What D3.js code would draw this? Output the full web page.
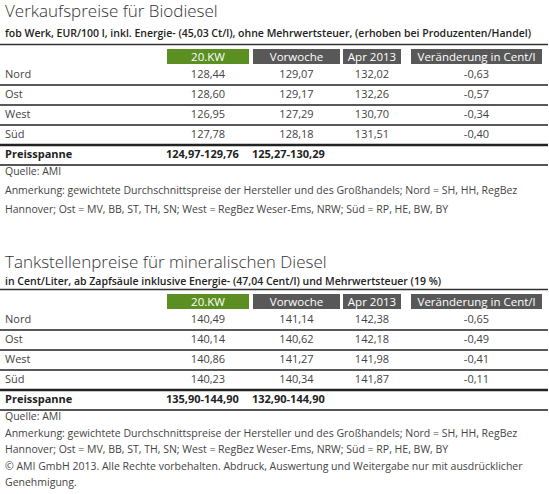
<!DOCTYPE html>
<html>
<head>
<meta charset="utf-8">
<script src="https://cdn.jsdelivr.net/npm/d3@7"></script>
<style>
  body { margin: 0; background: #fff; }
  svg { display: block; font-family: "Open Sans", "Noto Sans", sans-serif; }
</style>
</head>
<body>
<script>
// column heads and row labels
var columns = ["20.KW", "Vorwoche", "Apr 2013", "Veränderung in Cent/l"];
var regions = ["Nord", "Ost", "West", "Süd"];
var rangeLabel = "Preisspanne";

// Biodiesel, EUR/100 l
var bioKw = [128.44, 128.60, 126.95, 127.78];
var bioPrev = [129.07, 129.17, 127.29, 128.18];
var bioApr = [132.02, 132.26, 130.70, 131.51];
var bioChange = [-0.63, -0.57, -0.34, -0.40];
var bioRange = ["124,97-129,76", "125,27-130,29"];

// Diesel an der Tankstelle, Cent/Liter
var dieselKw = [140.49, 140.14, 140.86, 140.23];
var dieselPrev = [141.14, 140.62, 141.27, 140.34];
var dieselApr = [142.38, 142.18, 141.98, 141.87];
var dieselChange = [-0.65, -0.49, -0.41, -0.11];
var dieselRange = ["135,90-144,90", "132,90-144,90"];

var noteRegions = [
  "Anmerkung: gewichtete Durchschnittspreise der Hersteller und des Großhandels; Nord = SH, HH, RegBez",
  "Hannover; Ost = MV, BB, ST, TH, SN; West = RegBez Weser-Ems, NRW; Süd = RP, HE, BW, BY"
];
var noteCopy = [
  "© AMI GmbH 2013. Alle Rechte vorbehalten. Abdruck, Auswertung und Weitergabe nur mit ausdrücklicher",
  "Genehmigung."
];

var width = 549, height = 494;
var fmt = d3.formatLocale({decimal: ",", thousands: ".", grouping: [3], currency: ["", ""], minus: "-"}).format(".2f");

var svg = d3.select("body").append("svg")
    .attr("width", width)
    .attr("height", height);

// header boxes: left and right edges of each column
var colLeft = d3.scaleOrdinal().domain(columns).range([167, 253, 343, 411]);
var colRight = d3.scaleOrdinal().domain(columns).range([249, 340, 401, 542]);
var colFill = d3.scaleOrdinal().domain(columns).range(["#5b8f22", "#585858", "#585858", "#585858"]);

var tables = [
  {
    top: 0, titleY: 17, subY: 37,
    title: "Verkaufspreise für Biodiesel",
    subtitle: "fob Werk, EUR/100 l, inkl. Energie- (45,03 Ct/l), ohne Mehrwertsteuer, (erhoben bei Produzenten/Handel)",
    values: [bioKw, bioPrev, bioApr, bioChange],
    range: bioRange,
    notes: ["Quelle: AMI"].concat(noteRegions),
    notePitch: 19
  },
  {
    top: 245, titleY: 23, subY: 40,
    title: "Tankstellenpreise für mineralischen Diesel",
    subtitle: "in Cent/Liter, ab Zapfsäule inklusive Energie- (47,04 Cent/l) und Mehrwertsteuer (19 %)",
    values: [dieselKw, dieselPrev, dieselApr, dieselChange],
    range: dieselRange,
    notes: ["Quelle: AMI"].concat(noteRegions, noteCopy),
    notePitch: 16.5
  }
];

tables.forEach(function(t) {
  var g = svg.append("g").attr("transform", "translate(0," + t.top + ")");

  g.append("text")
      .attr("x", 5).attr("y", t.titleY)
      .style("font-size", "17px")
      .style("font-weight", 300)
      .style("fill", "#333")
      .text(t.title);

  g.append("text")
      .attr("x", 5).attr("y", t.subY)
      .style("font-size", "10.5px")
      .style("font-weight", 600)
      .style("fill", "#222")
      .text(t.subtitle);

  g.append("line")
      .attr("x1", 0).attr("x2", 548)
      .attr("y1", 44.5).attr("y2", 44.5)
      .style("stroke", "#333").style("stroke-width", 1.5);

  // header
  var head = g.selectAll(".head").data(columns).enter().append("g").attr("class", "head");
  head.append("rect")
      .attr("x", function(d) { return colLeft(d); })
      .attr("y", 49)
      .attr("width", function(d) { return colRight(d) - colLeft(d); })
      .attr("height", 15)
      .style("fill", function(d) { return colFill(d); });
  head.append("text")
      .attr("x", function(d) { return (colLeft(d) + colRight(d)) / 2; })
      .attr("y", 60.5)
      .attr("text-anchor", "middle")
      .style("font-size", "11.5px")
      .style("fill", "#fff")
      .text(function(d) { return d; });

  var y = d3.scalePoint().domain(regions.concat([rangeLabel])).range([78, 158]);

  // separators below each row
  var rowKeys = regions.concat([rangeLabel]);
  g.selectAll(".sep").data(rowKeys).enter().append("line")
      .attr("class", "sep")
      .attr("x1", 0).attr("x2", 548)
      .attr("y1", function(d) { return y(d) + 7; })
      .attr("y2", function(d) { return y(d) + 7; })
      .style("stroke", function(d) { return d === rangeLabel ? "#555" : "#222"; })
      .style("stroke-width", function(d) { return d === "Süd" ? 2.5 : d === rangeLabel ? 2 : 1.5; });

  // row labels
  g.selectAll(".label").data(regions).enter().append("text")
      .attr("x", 5)
      .attr("y", function(d) { return y(d); })
      .style("font-size", "11px")
      .style("fill", "#444")
      .text(function(d) { return d; });

  // cells
  columns.forEach(function(c, ci) {
    g.selectAll(".cell" + ci).data(t.values[ci]).enter().append("text")
        .attr("x", (colLeft(c) + colRight(c)) / 2)
        .attr("y", function(d, i) { return y(regions[i]); })
        .attr("text-anchor", "middle")
        .style("font-size", "11px")
        .style("fill", "#444")
        .text(function(d) { return fmt(d); });
  });

  // price range row
  g.append("text")
      .attr("x", 5).attr("y", y(rangeLabel))
      .style("font-size", "11px").style("font-weight", 700).style("fill", "#222")
      .text(rangeLabel);
  g.selectAll(".range").data(t.range).enter().append("text")
      .attr("x", function(d, i) { return colLeft(columns[i]) - 1; })
      .attr("y", y(rangeLabel))
      .style("font-size", "11px").style("font-weight", 700).style("fill", "#222")
      .text(function(d) { return d; });

  // notes
  g.selectAll(".note").data(t.notes).enter().append("text")
      .attr("x", 5)
      .attr("y", function(d, i) { return y(rangeLabel) + 17 + i * t.notePitch; })
      .style("font-size", "10.5px")
      .style("fill", "#444")
      .text(function(d) { return d; });
});
</script>
</body>
</html>
